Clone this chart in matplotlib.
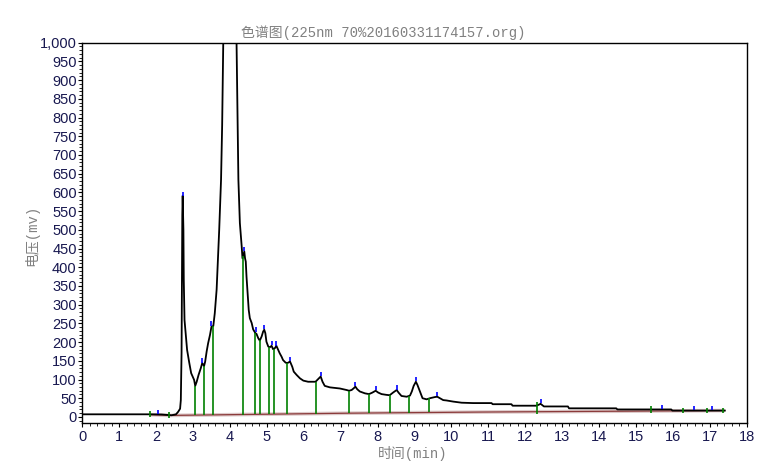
import numpy as np
import matplotlib
matplotlib.use("Agg")
import matplotlib.pyplot as plt
from matplotlib.ticker import MultipleLocator, FuncFormatter

# chromatogram trace (min, mV)
time_min = [0, 1.80, 2.15, 2.38, 2.42, 2.54, 2.60, 2.65, 2.67, 2.69, 2.70, 2.71, 2.72,
            2.74, 2.75, 2.77, 2.81, 2.84, 2.90, 2.95, 2.99, 3.03, 3.06, 3.10, 3.15,
            3.21, 3.25, 3.30, 3.33, 3.37, 3.41, 3.46, 3.50, 3.55, 3.59, 3.64, 3.68,
            3.71, 3.74, 3.76, 3.79, 3.82, 3.88, 3.95, 4.02, 4.10, 4.15, 4.18, 4.21,
            4.23, 4.25, 4.27,
            4.32, 4.34, 4.39, 4.41, 4.43, 4.45, 4.48, 4.51, 4.54, 4.59, 4.63, 4.69,
            4.72, 4.77, 4.81, 4.86, 4.90, 4.93, 4.96, 4.99, 5.04, 5.08, 5.13, 5.17,
            5.22, 5.26, 5.31, 5.35, 5.40, 5.44, 5.51, 5.56, 5.63, 5.69, 5.73, 5.81,
            5.90, 5.99, 6.12, 6.32, 6.39, 6.46, 6.51, 6.57, 6.71, 6.98, 7.16, 7.23,
            7.30, 7.36, 7.40, 7.45, 7.52, 7.66, 7.77, 7.86, 7.95, 8.02, 8.11, 8.24,
            8.33, 8.42, 8.52, 8.57, 8.65, 8.79, 8.88, 8.93, 8.98, 9.04, 9.08, 9.15,
            9.22, 9.33, 9.42, 9.55, 9.62, 9.69, 9.78, 9.87, 10.05, 10.28, 10.59,
            11.09, 11.12, 11.63, 11.66, 12.31, 12.42, 12.51, 13.16, 13.19, 14.47,
            14.50, 15.96, 15.99, 17.41]
signal_mv = [7, 7, 6.5, 5, 4.5, 7, 14, 22, 45, 171, 366, 540, 591,
             500, 366, 259, 215, 179, 144, 117, 108, 99, 83, 94, 112,
             130, 144, 136, 148, 175, 197, 219, 241, 243, 277, 340, 429,
             500, 580, 634, 780, 1000, 1450, 1800, 1800, 1450, 1150, 1000, 780,
             634, 580, 518,
             455, 424, 442, 424, 415, 375, 331, 286, 264, 251, 234, 224,
             222, 210, 204, 215, 228, 233, 224, 201, 188, 186, 190, 181,
             184, 190, 179, 170, 161, 152, 145, 144, 148, 134, 121, 112,
             103, 97, 94, 94, 101, 108, 94, 83, 79, 76, 72, 70,
             72, 77, 81, 74, 68, 63, 61, 65, 70, 65, 61, 59,
             58, 65, 72, 65, 56, 54, 57, 68, 83, 94, 86, 68,
             50, 47, 50, 53, 54, 50, 45, 44, 41, 38, 37,
             37, 34, 34, 30, 30, 35, 28, 28, 23, 23,
             20, 20, 17, 17]

# integration baseline
base_t = [1.84, 2.36, 7.22, 10.77, 17.41]
base_v = [6, 4, 10, 13, 17]

# peak split (green) and apex (blue) markers
split_t = [1.84, 2.36, 3.06, 3.30, 3.55, 4.36, 4.69, 4.82, 5.07, 5.20, 5.55, 6.32,
           7.22, 7.77, 8.33, 8.86, 9.40, 12.33, 15.42, 16.28, 16.93, 17.36]
apex_t = [2.06, 2.72, 3.25, 3.50, 4.39, 4.70, 4.93, 5.13, 5.26, 5.63, 6.46, 7.40,
          7.95, 8.52, 9.04, 9.62, 12.42, 15.71, 16.58, 17.06]

x_ticks = list(range(0, 19))
y_ticks = list(range(0, 1001, 50))

title = "色谱图(225nm 70%20160331174157.org)"
xlabel = "时间(min)"
ylabel = "电压(mv)"

fig = plt.figure(figsize=(7.67, 4.61), dpi=100)
ax = fig.add_axes([0.1073, 0.0818, 0.8660, 0.8256])

t = np.asarray(time_min); s = np.asarray(signal_mv)
bt = np.asarray(base_t); bv = np.asarray(base_v)

# baseline: pale band + dark brown line
ax.plot(bt, bv, color="#dcc8c8", lw=2.6, zorder=2, solid_capstyle="butt")
ax.plot(bt, bv, color="#8b3a3a", lw=0.9, zorder=3)

ax.plot(t, s, color="black", lw=1.3, zorder=4)

for x in split_t:
    c = np.interp(x, t, s); b = np.interp(x, bt, bv)
    if c - b < 20:
        lo, hi = b - 6, max(c, b) + 8
    else:
        lo, hi = b, c
    ax.vlines(x, lo, hi, color="#008000", lw=1.2, zorder=5)

fine = np.linspace(0, 17.41, 8000)
sf = np.interp(fine, t, s)
for x in apex_t:
    m = (fine > x - 0.03) & (fine < x + 0.03)
    top = sf[m].max()
    ax.vlines(x, top + 1, top + 13, color="#0000ff", lw=1.2, zorder=6)

ax.set_xlim(0, 18)
ax.set_ylim(-17, 1000)
ax.set_xticks(x_ticks)
ax.set_yticks(y_ticks)
ax.xaxis.set_minor_locator(MultipleLocator(0.2))
ax.yaxis.set_minor_locator(MultipleLocator(10))
ax.yaxis.set_major_formatter(FuncFormatter(lambda v, p: f"{int(v):,}"))

lab = "#181850"
ax.tick_params(which="major", length=3, width=0.8, pad=1, labelsize=10.5,
               labelcolor=lab, labelfontfamily="Liberation Sans")
ax.tick_params(which="minor", length=2, width=0.6)
ax.tick_params(axis="x", pad=2)
for sp in ax.spines.values():
    sp.set_linewidth(1.0)
ax.spines["left"].set_linestyle((0, (2, 1)))

grey = "#808080"
fam = ["Liberation Mono", "Noto Sans CJK SC"]
fig.text(0.5, 0.93, title, ha="center", va="center", fontsize=10, color=grey, family=fam)
fig.text(0.538, 0.016, xlabel, ha="center", va="center", fontsize=10, color=grey, family=fam)
fig.text(0.042, 0.49, ylabel, ha="center", va="center", fontsize=10, color=grey,
         rotation=90, family=fam)

fig.savefig("out.png", dpi=100)
